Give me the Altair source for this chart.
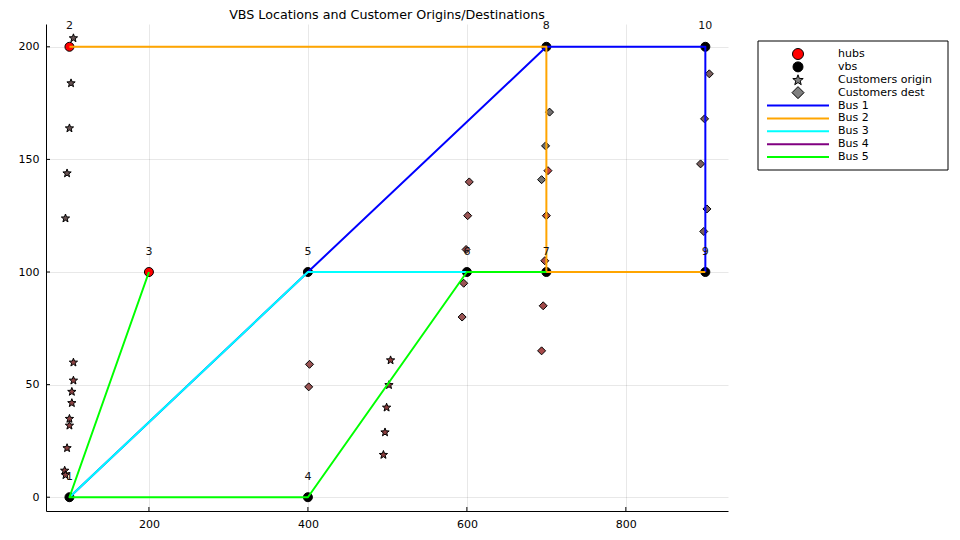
import math
import altair as alt
import pandas as pd

# ---------------- data ----------------
node_ids = [1, 2, 3, 4, 5, 6, 7, 8, 9, 10]
node_x = [100, 100, 200, 400, 400, 600, 700, 700, 900, 900]
node_y = [0, 200, 100, 0, 100, 100, 100, 200, 100, 200]
hub_ids = [2, 3]

bus_names = ["Bus 1", "Bus 2", "Bus 3", "Bus 4", "Bus 5"]
bus_routes = [[1, 5, 8, 10, 9], [2, 8, 7, 9], [1, 5, 6], [], [3, 1, 4, 6, 7]]
bus_colors = ["#0000ff", "#ffa500", "#00ffff", "#800080", "#00ff00"]

origin_x = [105, 102, 100, 97, 95, 105, 105, 103, 103, 100, 100, 97, 94, 95,
            504, 502, 499, 497, 495]
origin_y = [204, 184, 164, 144, 124, 60, 52, 47, 42, 35, 32, 22, 12, 10,
            61, 50, 40, 29, 19]
origin_colors = ["#665252"] * 5 + ["#8a4242"] * 9 + ["#8a3c3c"] * 5

dest_x = [402, 401, 603, 601, 599, 596, 594,
          704, 699, 702, 694, 700, 698, 696, 694,
          905, 899, 894, 902, 898]
dest_y = [59, 49, 140, 125, 110, 95, 80,
          171, 156, 145, 141, 125, 105, 85, 65,
          188, 168, 148, 128, 118]
dest_colors = ["#9a5454"] * 7 + ["#747070", "#6c6c6c", "#c44646", "#737373",
                                 "#b04c40", "#a84e4e", "#a04848", "#a84a4a"] + ["#7b5f5f"] * 5

legend_labels = ["hubs", "vbs", "Customers origin", "Customers dest",
                 "Bus 1", "Bus 2", "Bus 3", "Bus 4", "Bus 5"]

x_ticks = [200, 400, 600, 800]
y_ticks = [0, 50, 100, 150, 200]

# ---------------- shapes ----------------
pts = []
for k in range(10):
    ang = -math.pi / 2 + k * math.pi / 5
    r = 1.0 if k % 2 == 0 else 0.42
    pts.append(f"{r * math.cos(ang):.3f},{r * math.sin(ang) + 0.095:.3f}")
STAR = "M" + "L".join(pts) + "Z"

FONT = "DejaVu Sans"

# ---------------- scales ----------------
xs = alt.Scale(domain=[70.5, 928.5], nice=False, zero=False)
ys = alt.Scale(domain=[-6.12, 210.12], nice=False, zero=False)
xaxis = alt.Axis(values=x_ticks, title=None, grid=True, ticks=False, labelFlush=False)
yaxis = alt.Axis(values=y_ticks, title=None, grid=True, ticks=False, labelFlush=False)
X = alt.X("x:Q", scale=xs, axis=xaxis)
Y = alt.Y("y:Q", scale=ys, axis=yaxis)

nodes = pd.DataFrame({"id": node_ids, "x": node_x, "y": node_y})
nodes["label"] = nodes["id"].astype(str)
hubs = nodes[nodes["id"].isin(hub_ids)]
vbs = nodes[~nodes["id"].isin(hub_ids)]

origins = pd.DataFrame({"x": origin_x, "y": origin_y, "c": origin_colors})
dests = pd.DataFrame({"x": dest_x, "y": dest_y, "c": dest_colors})

layers = []
layers.append(
    alt.Chart(hubs).mark_point(shape="circle", size=81, filled=True, fill="#ff0000",
                               stroke="black", strokeWidth=1, opacity=1)
    .encode(x=X, y=Y)
)
layers.append(
    alt.Chart(vbs).mark_point(shape="circle", size=81, filled=True, fill="black",
                              stroke="black", strokeWidth=1, opacity=1)
    .encode(x=X, y=Y)
)
layers.append(
    alt.Chart(origins).mark_point(shape=STAR, size=76, filled=True,
                                  stroke="black", strokeWidth=1, opacity=1)
    .encode(x=X, y=Y, fill=alt.Fill("c:N", scale=None))
)
layers.append(
    alt.Chart(dests).mark_point(shape="diamond", size=64, filled=True,
                                stroke="black", strokeWidth=1, opacity=1)
    .encode(x=X, y=Y, fill=alt.Fill("c:N", scale=None))
)

pos = {i: (x, y) for i, x, y in zip(node_ids, node_x, node_y)}
for name, route, col in zip(bus_names, bus_routes, bus_colors):
    if len(route) < 2:
        continue
    df = pd.DataFrame({
        "step": list(range(len(route))),
        "x": [pos[n][0] for n in route],
        "y": [pos[n][1] for n in route],
    })
    layers.append(
        alt.Chart(df).mark_line(color=col, strokeWidth=2, strokeJoin="round")
        .encode(x=X, y=Y, order="step:Q")
    )

layers.append(
    alt.Chart(nodes).mark_text(dy=-20.5, font=FONT, fontSize=11, color="#111111",
                               baseline="middle", align="center")
    .encode(x=X, y=Y, text="label:N")
)

# inward ticks
layers.append(
    alt.Chart(pd.DataFrame({"x": x_ticks})).mark_rule(color="black", strokeWidth=1)
    .encode(x=X, y=alt.value(487), y2=alt.value(483))
)
layers.append(
    alt.Chart(pd.DataFrame({"y": y_ticks})).mark_rule(color="black", strokeWidth=1)
    .encode(y=Y, x=alt.value(0), x2=alt.value(4))
)

main = alt.layer(*layers)

# ---------------- legend ----------------
ly = alt.Y("label:N", scale=alt.Scale(type="point", domain=legend_labels,
                                      range=[30, 133], padding=0), axis=None)
sym_df = pd.DataFrame({
    "label": legend_labels[:4],
    "shape": ["circle", "circle", STAR, "diamond"],
    "fill": ["#ff0000", "#000000", "#808080", "#808080"],
    "size": [121, 100, 120, 144],
})
line_df = pd.DataFrame({"label": bus_names, "color": bus_colors})
text_df = pd.DataFrame({"label": legend_labels})

box = alt.Chart(pd.DataFrame({"a": [0]})).mark_rect(
    fill="white", stroke="black", strokeWidth=1
).encode(x=alt.value(712), x2=alt.value(902), y=alt.value(17), y2=alt.value(146))

leg_lines = alt.Chart(line_df).mark_rule(strokeWidth=2).encode(
    y=ly, x=alt.value(721), x2=alt.value(783), color=alt.Color("color:N", scale=None)
)
leg_syms = alt.Chart(sym_df).mark_point(filled=True, stroke="black", strokeWidth=1,
                                        opacity=1).encode(
    y=ly, x=alt.value(752),
    shape=alt.Shape("shape:N", scale=None),
    fill=alt.Fill("fill:N", scale=None),
    size=alt.Size("size:Q", scale=None),
)
leg_text = alt.Chart(text_df).mark_text(align="left", baseline="middle", font=FONT,
                                        fontSize=11, color="black").encode(
    y=ly, x=alt.value(792), text="label:N"
)
legend = alt.layer(box, leg_lines, leg_syms, leg_text)

chart = (
    alt.layer(main, legend)
    .resolve_scale(y="independent")
    .properties(
        width=682,
        height=487,
        padding={"left": 38, "top": 16, "right": 224, "bottom": 21},
        autosize=alt.AutoSizeParams(type="none"),
        title=alt.TitleParams(
            "VBS Locations and Customer Origins/Destinations",
            font=FONT, fontSize=12.7, fontWeight="normal", color="black",
            anchor="middle", frame="group", offset=2, dy=3,
        ),
    )
    .configure_view(stroke=None)
    .configure_axis(
        domainColor="black", domainWidth=1,
        gridColor="black", gridOpacity=0.09, gridWidth=1,
        labelFont=FONT, labelFontSize=11, labelColor="black", labelPadding=7,
    )
)

chart.save("out.html", embed_options={"renderer": "svg", "actions": False})
